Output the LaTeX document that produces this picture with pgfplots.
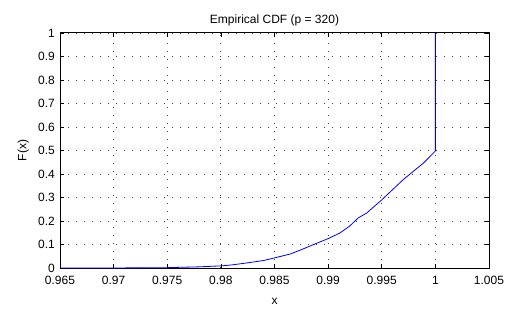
\documentclass[border=0pt]{standalone}
\usepackage{pgfplots}
\pgfplotsset{compat=1.18}
\usepackage{fontspec}
\setmainfont{Liberation Sans}
\begin{document}
\fontsize{12}{14}\selectfont
\begin{tikzpicture}
\begin{axis}[
  at={(0pt,0pt)}, anchor=south west,
  scale only axis, width=429pt, height=235pt,
  xmin=0.965, xmax=1.005, ymin=0, ymax=1,
  xtick={0.965,0.97,0.975,0.98,0.985,0.99,0.995,1,1.005},
  xticklabels={0.965,0.97,0.975,0.98,0.985,0.99,0.995,1,1.005},
  ytick={0,0.1,0.2,0.3,0.4,0.5,0.6,0.7,0.8,0.9,1},
  yticklabels={0,0.1,0.2,0.3,0.4,0.5,0.6,0.7,0.8,0.9,1},
  tick align=inside, major tick length=4pt,
  tick style={black, line width=0.6pt},
  axis line style={black, line width=1pt},
  grid=major, major grid style={black!75, line width=0.9pt, dash pattern=on 0.9pt off 7.1pt},
  ticklabel style={font=\fontsize{12}{14}\selectfont},
  xticklabel style={yshift=-4pt},
  yticklabel style={xshift=-1pt},
  title={Empirical CDF (p = 320)},
  title style={font=\fontsize{12}{14}\selectfont, yshift=-3pt},
  xlabel={x}, ylabel={F(x)},
  label style={font=\fontsize{12}{14}\selectfont},
  xlabel style={yshift=-5pt},
  ylabel style={yshift=1pt},
]
\addplot[color={rgb,255:red,0;green,0;blue,255}, line width=0.8pt] coordinates {
(0.965,0) (0.972,0.0005) (0.975,0.0015) (0.978,0.005) (0.98,0.009)
(0.981,0.013) (0.9825,0.022) (0.984,0.032) (0.985,0.043) (0.9865,0.06)
(0.9875,0.078) (0.9886,0.099) (0.99,0.125) (0.9911,0.149) (0.992,0.178)
(0.9928,0.213) (0.9936,0.234) (0.995,0.29) (0.997,0.376) (0.9989,0.447)
(1.0,0.498) (1.0,1.0)
};
\end{axis}
\pgfresetboundingbox
\path (-60pt,-40pt) rectangle (448pt,268pt);
\end{tikzpicture}
\end{document}
